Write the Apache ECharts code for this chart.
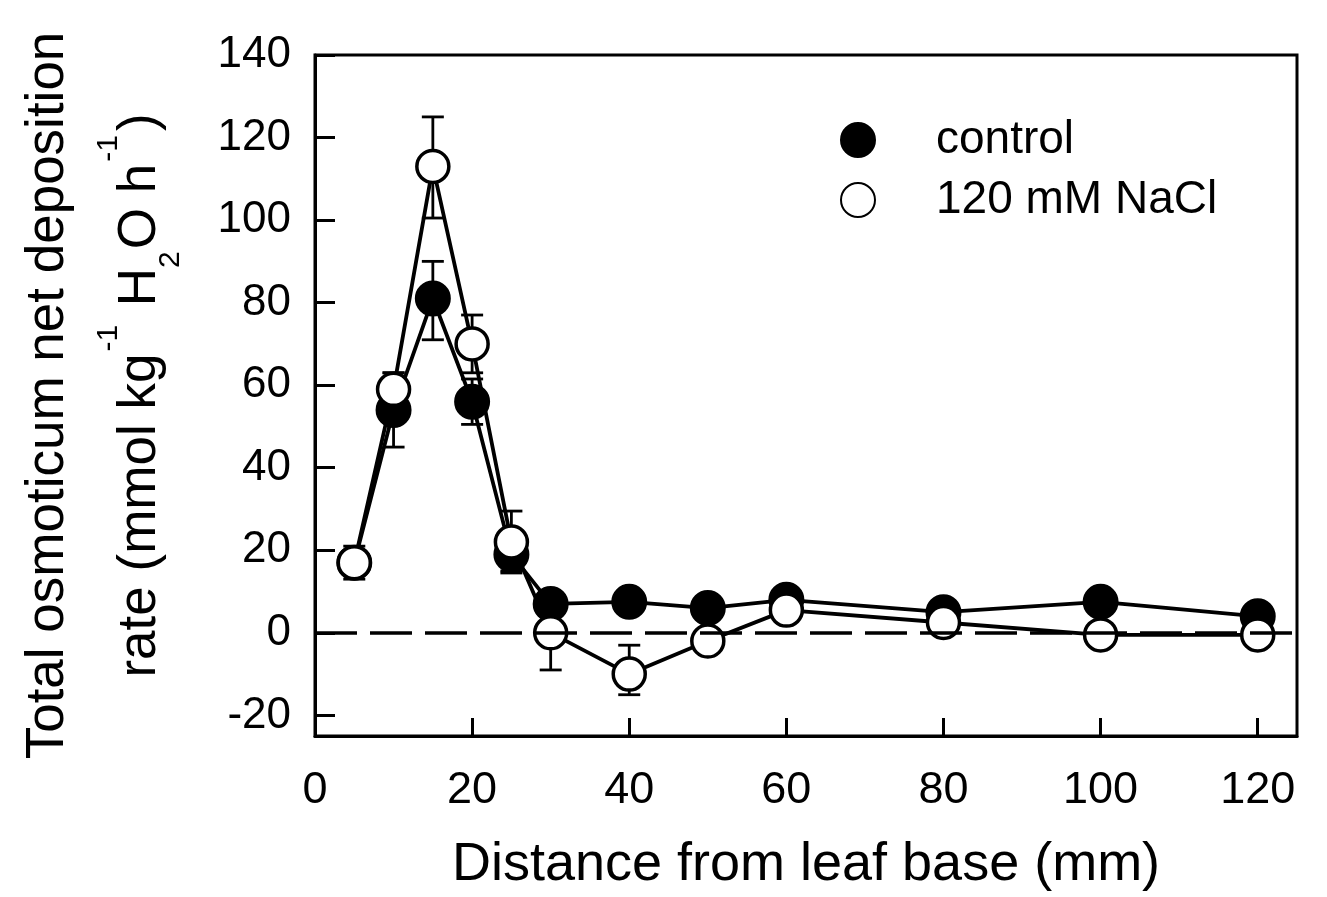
<!DOCTYPE html>
<html>
<head>
<meta charset="utf-8">
<script src="https://cdn.jsdelivr.net/npm/echarts@6/dist/echarts.min.js"></script>
<style>html,body{margin:0;background:#fff}#chart{width:1327px;height:897px}</style>
</head>
<body>
<div id="chart"></div>
<script>
// distance from leaf base (mm)
const distance = [5, 10, 15, 20, 25, 30, 40, 50, 60, 80, 100, 120];
const control = [17, 54, 81, 56, 19, 7, 7.5, 6, 8, 5, 7.5, 4];
const nacl = [17, 59, 113, 70, 22, 0, -10, -2, 5.5, 2.5, -0.5, -0.5];
// error bars: [x, low, high]
const controlErr = [[10, 45, 63], [15, 71, 90], [20, 50.5, 61.5], [25, 15, 23]];
const naclErr = [[5, 13, 21], [10, 55, 63], [15, 100.5, 125], [20, 63, 77], [25, 14.5, 29.5], [30, -9, 9], [40, -15, -3]];
const xTicks = [0, 20, 40, 60, 80, 100, 120];
const yTicks = [-20, 0, 20, 40, 60, 80, 100, 120, 140];

const font = 'Liberation Sans, Arial, sans-serif';
const myChart = echarts.init(document.getElementById('chart'));

function pairs(ys){
    return distance.map((d, i) => [d, ys[i]]);
}

function errorBar(params, api){
    const x = api.value(0);
    const lo = api.coord([x, api.value(1)]);
    const hi = api.coord([x, api.value(2)]);
    const w = 11;
    const st = {stroke: '#000', lineWidth: 2.8};
    return {
        type: 'group',
        children: [
            {type: 'line', shape: {x1: lo[0], y1: lo[1], x2: hi[0], y2: hi[1]}, style: st},
            {type: 'line', shape: {x1: lo[0] - w, y1: lo[1], x2: lo[0] + w, y2: lo[1]}, style: st},
            {type: 'line', shape: {x1: hi[0] - w, y1: hi[1], x2: hi[0] + w, y2: hi[1]}, style: st}
        ]
    };
}

const option = {
    animation: false,
    backgroundColor: '#fff',
    textStyle: {fontFamily: font, color: '#000'},
    grid: {left: 315, right: 30, top: 55, bottom: 160, show: true, borderColor: '#000', borderWidth: 3},
    legend: {
        data: ['control', '120 mM NaCl'],
        orient: 'vertical',
        left: 835,
        top: 112,
        icon: 'circle',
        itemWidth: 34,
        itemHeight: 34,
        itemGap: 14,
        textStyle: {fontFamily: font, fontSize: 46, color: '#000', padding: [0, 0, 0, 56]}
    },
    xAxis: {
        type: 'value',
        min: 0,
        max: 125,
        name: 'Distance from leaf base (mm)',
        nameLocation: 'middle',
        nameGap: 102,
        nameTextStyle: {fontFamily: font, fontSize: 54, color: '#000'},
        axisLine: {onZero: false, lineStyle: {color: '#000', width: 3}},
        axisTick: {inside: true, length: 18, lineStyle: {width: 3, color: '#000'}, customValues: xTicks},
        axisLabel: {fontSize: 45, color: '#000', margin: 32, customValues: xTicks},
        splitLine: {show: false}
    },
    yAxis: {
        type: 'value',
        min: -25,
        max: 140,
        name: '{n|Total osmoticum net deposition}\n{n|rate (mmol kg}{sup|-1}{n| H}{sub|2}{n|O h}{sup|-1}{n|)}',
        nameLocation: 'middle',
        nameRotate: 90,
        nameGap: 129,
        nameTextStyle: {
            fontFamily: font,
            color: '#000',
            rich: {
                n: {fontSize: 53, lineHeight: 92, fontFamily: font},
                sup: {fontSize: 30, verticalAlign: 'top', lineHeight: 46, padding: [0, 4, 0, 2], fontFamily: font},
                sub: {fontSize: 30, verticalAlign: 'bottom', lineHeight: 44, padding: [0, 2, 0, 0], fontFamily: font}
            }
        },
        axisLine: {onZero: false, lineStyle: {color: '#000', width: 3}},
        axisTick: {inside: true, length: 20, lineStyle: {width: 3, color: '#000'}, customValues: yTicks},
        axisLabel: {fontSize: 44, color: '#000', margin: 24, customValues: yTicks},
        splitLine: {show: false}
    },
    series: [
        {
            type: 'custom',
            renderItem: errorBar,
            data: controlErr,
            z: 1,
            silent: true
        },
        {
            type: 'custom',
            renderItem: errorBar,
            data: naclErr,
            z: 1,
            silent: true
        },
        {
            name: 'control',
            type: 'line',
            data: pairs(control),
            symbol: 'circle',
            symbolSize: 34,
            lineStyle: {color: '#000', width: 3.8},
            itemStyle: {color: '#000', borderColor: '#000', borderWidth: 2},
            z: 2
        },
        {
            name: '120 mM NaCl',
            type: 'line',
            data: pairs(nacl),
            symbol: 'circle',
            symbolSize: 32,
            lineStyle: {color: '#000', width: 3.8},
            itemStyle: {color: '#fff', borderColor: '#000', borderWidth: 3.5},
            z: 3
        },
        {
            type: 'line',
            data: [],
            z: 5,
            markLine: {
                silent: true,
                symbol: 'none',
                label: {show: false},
                lineStyle: {color: '#000', width: 3.5, type: [42, 13]},
                data: [{yAxis: 0}]
            }
        }
    ]
};

myChart.setOption(option);
</script>
</body>
</html>
